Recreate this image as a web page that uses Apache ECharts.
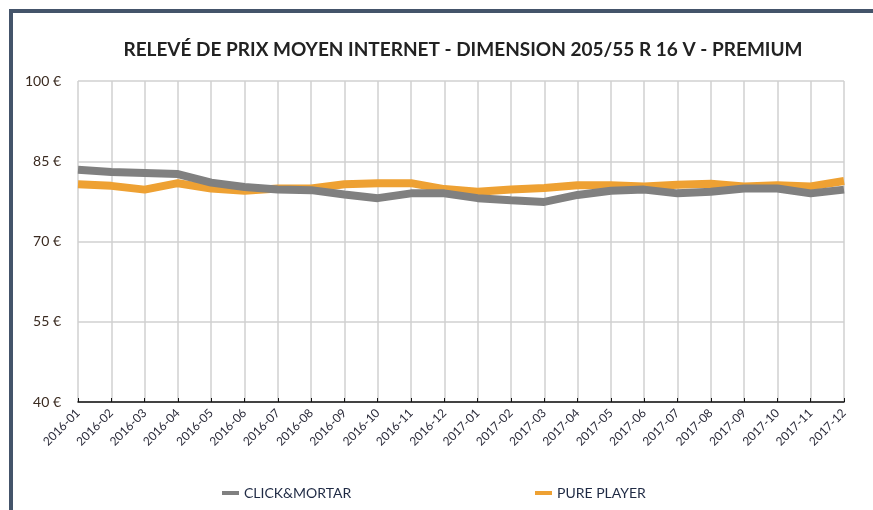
<!DOCTYPE html>
<html>
<head>
<meta charset="utf-8">
<script src="https://cdn.jsdelivr.net/npm/echarts@6/dist/echarts.min.js"></script>
<style>
  html, body { margin: 0; padding: 0; background: #fff; }
  #frame { position: absolute; left: 9px; top: 9px; width: 873px; height: 510px;
           border-left: 4px solid #44546a; border-top: 4px solid #44546a; }
  #main { position: absolute; left: 0; top: 0; width: 873px; height: 510px; }
</style>
</head>
<body>
<div id="frame"></div>
<div id="main"></div>
<script>
// mois relevés
var months = ['2016-01','2016-02','2016-03','2016-04','2016-05','2016-06','2016-07','2016-08',
  '2016-09','2016-10','2016-11','2016-12','2017-01','2017-02','2017-03','2017-04','2017-05',
  '2017-06','2017-07','2017-08','2017-09','2017-10','2017-11','2017-12'];
// prix moyen click&mortar
var clickMortar = [83.4, 83.0, 82.8, 82.6, 81.0, 80.2, 79.7, 79.6, 78.8, 78.1, 79.0, 79.0,
  78.1, 77.7, 77.4, 78.7, 79.5, 79.7, 79.0, 79.3, 79.9, 79.9, 79.0, 79.7];
// prix moyen pure player
var purePlayer = [80.7, 80.4, 79.7, 80.9, 79.9, 79.5, 79.9, 79.9, 80.7, 80.9, 80.9, 79.8,
  79.3, 79.7, 80.0, 80.5, 80.5, 80.3, 80.6, 80.8, 80.3, 80.5, 80.3, 81.3];

var chart = echarts.init(document.getElementById('main'));
var fontFam = 'Lato, sans-serif';

chart.setOption({
  animation: false,
  title: {
    text: 'RELEVÉ DE PRIX MOYEN INTERNET - DIMENSION 205/55 R 16 V - PREMIUM',
    left: 458, top: 35, textAlign: 'center',
    textStyle: { fontFamily: fontFam, fontSize: 19, fontWeight: 'bold', color: '#222' }
  },
  legend: [
    { data: ['CLICK&MORTAR'], left: 217, top: 481, icon: 'rect', itemWidth: 17, itemHeight: 4,
      itemGap: 10, textStyle: { fontFamily: fontFam, fontSize: 14, color: '#1f2a44' } },
    { data: ['PURE PLAYER'], left: 530, top: 481, icon: 'rect', itemWidth: 17, itemHeight: 4,
      textStyle: { fontFamily: fontFam, fontSize: 14, color: '#1f2a44' } }
  ],
  grid: { left: 78, right: 29, top: 81, bottom: 108, containLabel: false },
  xAxis: {
    type: 'category', data: months, boundaryGap: false,
    axisLine: { lineStyle: { color: '#111', width: 1.5 } },
    axisTick: { inside: true, length: 4, lineStyle: { color: '#111' } },
    axisLabel: { rotate: 45, fontFamily: fontFam, fontSize: 12, color: '#2b2b3a', margin: 9, interval: 0 },
    splitLine: { show: true, lineStyle: { color: '#d0d0d0', width: 1.5 } }
  },
  yAxis: {
    type: 'value', min: 40, max: 100, interval: 15,
    axisLine: { show: false }, axisTick: { show: false },
    axisLabel: { formatter: '{value} €', fontFamily: fontFam, fontSize: 14, color: '#3a2a20', margin: 17 },
    splitLine: { lineStyle: { color: '#d0d0d0', width: 1.5 } }
  },
  series: [
    { name: 'CLICK&MORTAR', type: 'line', data: clickMortar, showSymbol: false, z: 3,
      itemStyle: { color: '#808080' }, lineStyle: { color: '#808080', width: 8 } },
    { name: 'PURE PLAYER', type: 'line', data: purePlayer, showSymbol: false, z: 2,
      itemStyle: { color: '#eea133' }, lineStyle: { color: '#eea133', width: 8 } }
  ]
});
</script>
</body>
</html>
